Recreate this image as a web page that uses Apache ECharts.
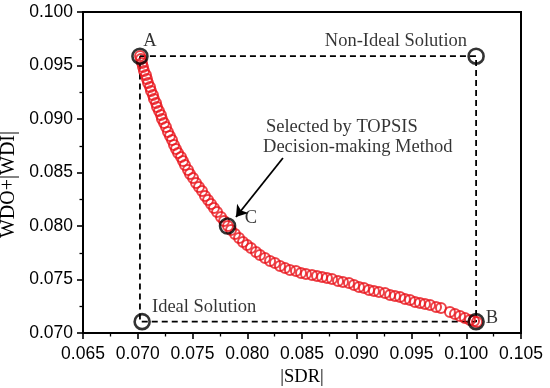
<!DOCTYPE html>
<html>
<head>
<meta charset="utf-8">
<script src="https://cdn.jsdelivr.net/npm/echarts@6/dist/echarts.min.js"></script>
<style>html,body{margin:0;padding:0;background:#fff}#c{width:550px;height:388px}</style>
</head>
<body>
<div id="c"></div>
<script>
// Pareto front points: |SDR| (x) and WDO+|WDI| (y)
const sdr = [0.07021,0.07030,0.07039,0.07048,0.07057,0.07075,0.07084,0.07094,0.07112,0.07121,
  0.07139,0.07148,0.07167,0.07176,0.07194,0.07212,0.07221,0.07240,0.07258,0.07276,
  0.07294,0.07313,0.07331,0.07349,0.07368,0.07395,0.07413,0.07431,0.07459,0.07477,
  0.07505,0.07532,0.07559,0.07587,0.07614,0.07642,0.07669,0.07696,0.07724,0.07760,
  0.07788,0.07824,0.07852,0.07888,0.07925,0.07961,0.07998,0.08034,0.08080,0.08116,
  0.08162,0.08208,0.08253,0.08299,0.08345,0.08390,0.08445,0.08491,0.08536,0.08591,
  0.08637,0.08683,0.08728,0.08774,0.08829,0.08874,0.08929,0.08975,0.09020,0.09066,
  0.09112,0.09157,0.09203,0.09258,0.09304,0.09349,0.09395,0.09440,0.09486,0.09532,
  0.09577,0.09623,0.09669,0.09724,0.09769,0.09851,0.09897,0.09943,0.09988,0.10034,
  0.10071,0.10098];
const wdo = [0.09589,0.09561,0.09523,0.09486,0.09449,0.09411,0.09374,0.09337,0.09299,0.09262,
  0.09224,0.09187,0.09150,0.09112,0.09075,0.09037,0.09000,0.08963,0.08925,0.08879,
  0.08841,0.08804,0.08757,0.08720,0.08682,0.08645,0.08608,0.08570,0.08523,0.08486,
  0.08449,0.08402,0.08365,0.08327,0.08280,0.08243,0.08206,0.08168,0.08131,0.08084,
  0.08047,0.08000,0.07963,0.07925,0.07888,0.07851,0.07822,0.07794,0.07757,0.07729,
  0.07701,0.07673,0.07654,0.07626,0.07607,0.07589,0.07579,0.07561,0.07551,0.07542,
  0.07533,0.07523,0.07514,0.07505,0.07486,0.07477,0.07467,0.07449,0.07430,0.07421,
  0.07402,0.07393,0.07383,0.07374,0.07355,0.07346,0.07336,0.07318,0.07308,0.07290,
  0.07280,0.07271,0.07262,0.07243,0.07234,0.07196,0.07178,0.07159,0.07140,0.07121,
  0.07112,0.07103];

// Highlighted points (black rings): A, Non-Ideal, Ideal, B, C
const keyX = [0.0702, 0.1009, 0.0704, 0.1009, 0.0782];
const keyY = [0.09587, 0.09587, 0.07106, 0.07106, 0.0800];

// Dashed rectangle between ideal / non-ideal solutions
const rectX = [0.0702, 0.1009, 0.1009, 0.0702, 0.0702];
const rectY = [0.09587, 0.09587, 0.07106, 0.07106, 0.09587];

// Arrow from annotation to C
const arrowFrom = [0.08326, 0.08636];
const arrowTo = [0.07897, 0.08084];

// Annotation texts and anchor coordinates
const labelTexts = ['A', 'Non-Ideal Solution', 'C', 'B'];
const labelX = [0.07112, 0.09358, 0.08034, 0.10235];
const labelY = [0.09729, 0.09729, 0.08075, 0.0714];
const leftTexts = ['Selected by TOPSIS', 'Decision-making Method', 'Ideal Solution'];
const leftX = [0.08171, 0.08144, 0.0713];
const leftY = [0.08925, 0.08738, 0.07243];

// Axis ticks
const xTicks = {min: 0.065, max: 0.105, step: 0.005};
const yTicks = {min: 0.070, max: 0.100, step: 0.005};

const serif = 'Liberation Serif';
const sans = 'Liberation Sans';

const chart = echarts.init(document.getElementById('c'), null, {renderer: 'canvas'});
const axisCommon = {
  type: 'value',
  axisLine: {show: true, onZero: false, lineStyle: {color: '#000', width: 2}},
  axisTick: {show: true, inside: false, length: 6, lineStyle: {color: '#000', width: 1.6}},
  minorTick: {show: true, splitNumber: 2, length: 3.5, lineStyle: {color: '#000', width: 1.3}},
  splitLine: {show: false},
  axisLabel: {color: '#000', fontFamily: sans, fontSize: 17.5, formatter: v => v.toFixed(3)},
  nameLocation: 'middle',
  nameTextStyle: {color: '#000', fontFamily: serif, fontSize: 18.5}
};

chart.setOption({
  animation: false,
  backgroundColor: '#fff',
  grid: {left: 83, right: 29, top: 12, bottom: 55, show: true, borderColor: '#000', borderWidth: 2,
    backgroundColor: 'transparent', containLabel: false, outerBoundsMode: 'none'},
  xAxis: Object.assign({}, axisCommon, {
    min: xTicks.min, max: xTicks.max, interval: xTicks.step,
    name: '|SDR|', nameGap: 27,
    axisLabel: Object.assign({}, axisCommon.axisLabel, {margin: 12})
  }),
  yAxis: Object.assign({}, axisCommon, {
    min: yTicks.min, max: yTicks.max, interval: yTicks.step,
    name: 'WDO+|WDI|', nameGap: 59,
    nameTextStyle: {color: '#000', fontFamily: serif, fontSize: 20, padding: [0, 24, 0, 0]},
    axisLabel: Object.assign({}, axisCommon.axisLabel, {margin: 10})
  }),
  series: [
    {
      type: 'line',
      data: rectX.map((x, i) => [x, rectY[i]]),
      symbol: 'none',
      lineStyle: {color: '#000', width: 1.8, type: [6, 4]},
      z: 1
    },
    {
      type: 'scatter',
      data: sdr.map((x, i) => [x, wdo[i]]),
      symbol: 'circle',
      symbolSize: 10,
      itemStyle: {color: 'rgba(255,255,255,0)', borderColor: '#e8141b', borderWidth: 2},
      z: 2
    },
    {
      type: 'scatter',
      data: keyX.map((x, i) => [x, keyY[i]]),
      symbol: 'circle',
      symbolSize: 15,
      itemStyle: {color: 'rgba(255,255,255,0)', borderColor: '#000', borderWidth: 2.6},
      z: 3
    },
    {
      type: 'lines',
      coordinateSystem: 'cartesian2d',
      data: [{coords: [arrowFrom, arrowTo]}],
      symbol: ['none', 'arrow'],
      symbolSize: [0, 11],
      lineStyle: {color: '#000', width: 1.8, opacity: 1, curveness: 0},
      z: 4
    },
    {
      type: 'scatter',
      data: labelTexts.map((t, i) => ({value: [labelX[i], labelY[i]], label: {formatter: t}})),
      symbolSize: 0,
      label: {show: true, position: 'inside', color: '#000', fontFamily: serif, fontSize: 18.5},
      z: 5
    },
    {
      type: 'scatter',
      data: leftTexts.map((t, i) => ({value: [leftX[i], leftY[i]], label: {formatter: t}})),
      symbolSize: 0,
      label: {show: true, position: 'right', distance: 0, color: '#000', fontFamily: serif, fontSize: 18.5},
      z: 5
    }
  ]
});
</script>
</body>
</html>
